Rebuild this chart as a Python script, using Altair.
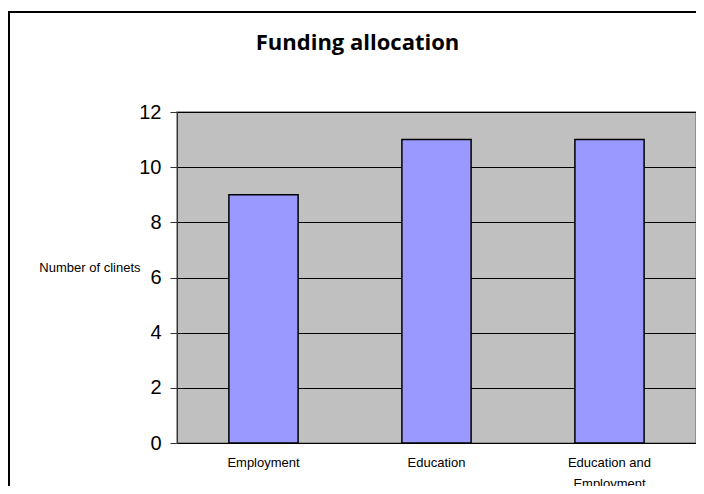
import altair as alt
import pandas as pd

categories = ["Employment", "Education", "Education and Employment"]
clients = [9, 11, 11]
y_ticks = [0, 2, 4, 6, 8, 10, 12]

df = pd.DataFrame({"category": categories, "clients": clients})

frame = alt.Chart(alt.Data(values=[{}])).mark_rect(
    fillOpacity=0, stroke="black", strokeWidth=2
).encode(
    x=alt.value(-168), x2=alt.value(700), y=alt.value(-100), y2=alt.value(600)
)

bars = alt.Chart(df).mark_bar(
    color="#9999FF", stroke="black", strokeWidth=1.5
).encode(
    x=alt.X(
        "category:N",
        sort=categories,
        scale=alt.Scale(paddingInner=0.6, paddingOuter=0.3),
        axis=alt.Axis(
            title=None,
            labelAngle=0,
            ticks=False,
            domain=False,
            labelFont="Liberation Sans",
            labelFontSize=13,
            labelColor="black",
            labelPadding=13,
            labelLineHeight=21,
            labelExpr="datum.label == 'Education and Employment' ? ['Education and', 'Employment'] : datum.label",
        ),
    ),
    y=alt.Y(
        "clients:Q",
        scale=alt.Scale(domain=[0, 12], nice=False),
        axis=alt.Axis(
            values=y_ticks,
            title="Number of clinets",
            titleAngle=0,
            titleAlign="right",
            titleBaseline="middle",
            titleX=-37,
            titleY=155,
            titleFont="Liberation Sans",
            titleFontSize=13,
            titleFontWeight="normal",
            titleColor="black",
            labelFont="Liberation Sans",
            labelFontSize=20,
            labelColor="black",
            labelPadding=9,
            tickSize=7,
            tickColor="#333333",
            domainColor="#333333",
            gridColor="black",
            gridWidth=1,
        ),
    ),
)

chart = alt.layer(frame, bars).properties(
    width=519,
    height=331,
    autosize=alt.AutoSizeParams(type="none"),
    padding={"left": 169, "top": 104, "right": 0, "bottom": 43},
    title=alt.Title(
        "Funding allocation",
        font="Open Sans",
        fontSize=22,
        fontWeight="bold",
        color="black",
        anchor="middle",
        frame="group",
        baseline="alphabetic",
        dx=-79,
        offset=-61,
    ),
).configure(
    background="white"
).configure_view(
    fill="#C0C0C0", stroke="#808080", strokeWidth=1.5
)

chart.save("out.html", embed_options={"renderer": "svg", "actions": False})
